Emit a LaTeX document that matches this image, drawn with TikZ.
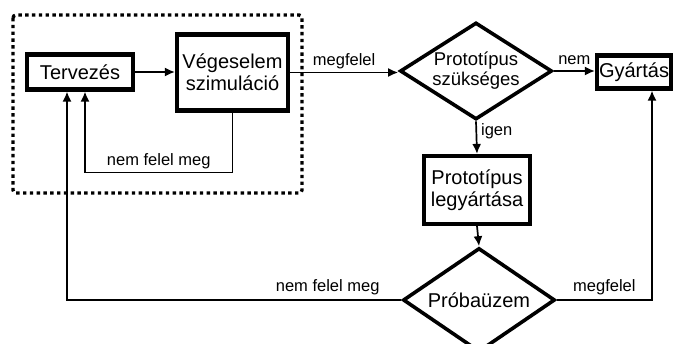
\documentclass[tikz,border=0pt]{standalone}
\usepackage{fontspec}
\setmainfont{Liberation Sans}
\usetikzlibrary{shapes.geometric,arrows.meta}

\begin{document}
\begin{tikzpicture}[
    x=1pt,y=-1pt,
    box/.style={draw,line width=4.2pt,inner sep=0pt,align=center,font=\fontsize{20}{22}\selectfont},
    dec/.style={draw,diamond,line width=3.6pt,inner sep=0pt,align=center,font=\fontsize{20}{22}\selectfont},
    line/.style={line width=1.7pt,-{Latex[length=10pt,width=9pt]}},
    lab/.style={font=\fontsize{16.5}{18}\selectfont,inner sep=2pt}
    ]
    \useasboundingbox (0,0) rectangle (676,344);
    \draw[line width=3.4pt,dash pattern=on 3.4pt off 3.4pt,rounded corners=3pt] (13,15) rectangle (302,193);
    \node[box,minimum width=106pt,minimum height=35pt] (terv) at (80,72) {Tervezés};
    \node[box,minimum width=111pt,minimum height=76pt] (veg) at (232.5,72.5) {Végeselem\\szimuláció};
    \node[dec,aspect=1.57,minimum width=152pt,minimum height=97pt,font=\fontsize{18.5}{20}\selectfont] (proto) at (476,71) {Prototípus\\szükséges};
    \node[box,minimum width=74pt,minimum height=33pt] (gyar) at (634,72) {Gyártás};
    \node[box,minimum width=106pt,minimum height=68pt] (legy) at (477,190) {Prototípus\\legyártása};
    \node[dec,aspect=1.46,minimum width=152pt,minimum height=104pt] (prob) at (479,300) {Próbaüzem};
    \draw[line] (terv.east) -- (terv.east -| veg.west);
    \draw[line] (veg.east) -- node[lab,above=1pt]{megfelel} (veg.east -| proto.west);
    \draw[line] (proto.east) -- node[lab,above=3pt]{nem} (proto.east -| gyar.west);
    \draw[line] (proto.south) -- node[lab,pos=0.3,right=2pt]{igen} (legy.north);
    \draw[line] (legy.south) -- (prob.north);
    \draw[line] (veg.south) -- ++(0,60) -| node[lab,pos=0.25,above=1pt]{nem felel meg} ([xshift=5pt]terv.south);
    \draw[line] (prob.west) -| node[lab,pos=0.11,above=2pt]{nem felel meg} ([xshift=-13pt]terv.south);
    \draw[line] (prob.east) -| node[lab,pos=0.25,above=2pt]{megfelel} ([xshift=18pt]gyar.south);
\end{tikzpicture}
\end{document}
